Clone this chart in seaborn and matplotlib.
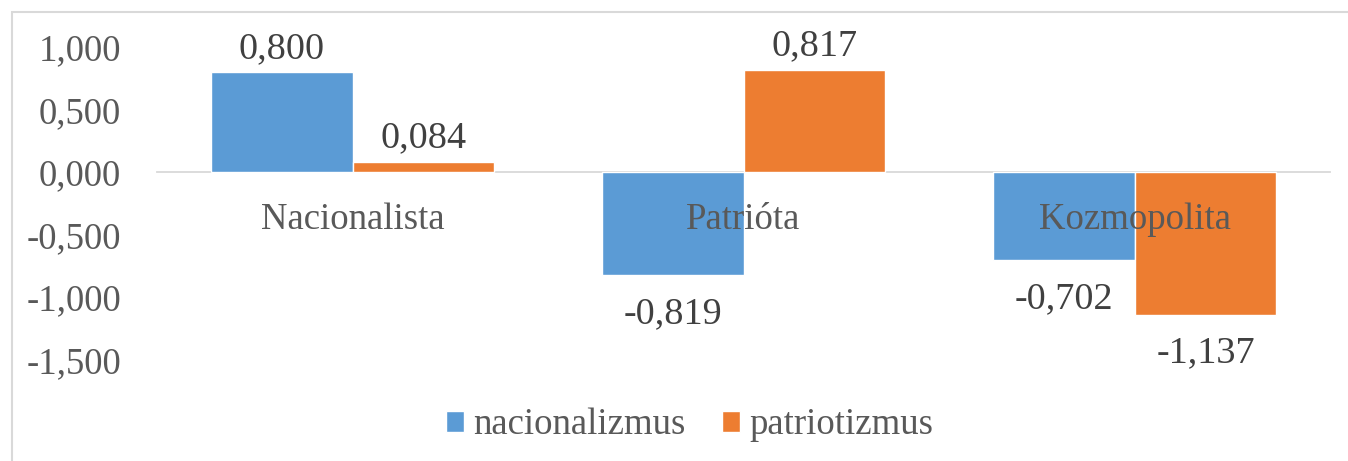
import pandas as pd
import matplotlib.pyplot as plt
import seaborn as sns
from matplotlib.patches import Rectangle

categories = ["Nacionalista", "Patrióta", "Kozmopolita"]
series_names = ["nacionalizmus", "patriotizmus"]
nacionalizmus = [0.800, -0.819, -0.702]
patriotizmus = [0.084, 0.817, -1.137]
y_ticks = [1.0, 0.5, 0.0, -0.5, -1.0, -1.5]

colors = ["#5B9BD5", "#ED7D31"]

df = pd.DataFrame({
    "category": categories * 2,
    "series": [series_names[0]] * 3 + [series_names[1]] * 3,
    "value": nacionalizmus + patriotizmus,
})

sns.set_style("white")
plt.rcParams["font.family"] = ["Liberation Serif", "DejaVu Serif"]

fig = plt.figure(figsize=(13.48, 4.61), dpi=100)
ax = fig.add_axes([157 / 1348, 1 - 360 / 461, 1173 / 1348, 313 / 461])

sns.barplot(data=df, x="category", y="value", hue="series", order=categories,
            hue_order=series_names, palette=colors, width=0.726, gap=0,
            saturation=1, ax=ax, errorbar=None, legend=True)

ax.set_xlim(-0.5, 2.5)
ax.set_ylim(-1.5, 1.0)
ax.set_yticks(y_ticks)
ax.set_yticklabels([f"{t:.3f}".replace(".", ",") for t in y_ticks])
ax.set_xlabel("")
ax.set_ylabel("")

for s in ["top", "right", "left"]:
    ax.spines[s].set_visible(False)
ax.spines["bottom"].set_position(("data", 0))
ax.spines["bottom"].set_color("#D9D9D9")
ax.spines["bottom"].set_linewidth(1.3)
ax.spines["bottom"].set_zorder(0.5)
ax.xaxis.set_zorder(5)
ax.tick_params(axis="x", length=0, pad=22, labelsize=26.5, labelcolor="#595959")
ax.tick_params(axis="y", length=0, pad=26, labelsize=26.5, labelcolor="#595959")

# value labels
for container in ax.containers:
    labels = [f"{v:.3f}".replace(".", ",") for v in container.datavalues]
    for bar, lab, v in zip(container, labels, container.datavalues):
        x = bar.get_x() + bar.get_width() / 2
        if v >= 0:
            ax.annotate(lab, (x, v), xytext=(0, 4.5), textcoords="offset points",
                        ha="center", va="bottom", fontsize=27.5, color="#404040",
                        annotation_clip=False, zorder=6)
        else:
            ax.annotate(lab, (x, v), xytext=(0, -15.5), textcoords="offset points",
                        ha="center", va="top", fontsize=27.5, color="#404040",
                        annotation_clip=False, zorder=6)

leg = ax.legend(loc="center", bbox_to_anchor=(0.454, -0.208), ncol=2, frameon=False,
                fontsize=26.5, handlelength=0.49, handleheight=0.49,
                handletextpad=0.25, columnspacing=1.0)
for t in leg.get_texts():
    t.set_color("#595959")

# outer chart border (top and left visible)
fig.patches.append(Rectangle((11.5 / 1348, -0.1), 1.2, 1 - 12.5 / 461 + 0.1,
                             transform=fig.transFigure, fill=False,
                             edgecolor="#D9D9D9", linewidth=1.5))

fig.savefig("out.png", dpi=100)
